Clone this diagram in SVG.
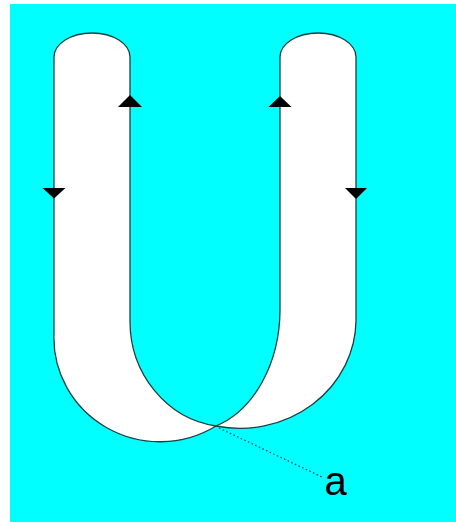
<svg xmlns="http://www.w3.org/2000/svg" width="456" height="522" viewBox="0 0 456 522">
<style>
.tube{fill:#ffffff;stroke:#1f3f3f;stroke-width:1.3}
.arr{fill:#000000}
.lead{stroke:#1f4f5f;stroke-width:1.3;stroke-dasharray:1.6 2.4;fill:none}
.lbl{font-family:"Liberation Sans",Arial,sans-serif;font-size:40px;fill:#000000}
</style>
<rect x="0" y="0" width="456" height="522" fill="#ffffff"/>
<rect x="10" y="4" width="446" height="518" fill="#00ffff"/>
<g id="left-tube">
<path class="tube" d="M54,333 L54,57 A38,24 0 0 1 130,57 L130,320 A100,106 0 0 0 216,426 A106,104 0 0 1 54,333 Z"/>
</g>
<g id="right-tube">
<path class="tube" d="M280,310 L280,57 A38,24 0 0 1 356,57 L356,321 A116,109 0 0 1 216,426 A90,122 0 0 0 280,310 Z"/>
</g>
<g id="connectors">
<polygon class="arr" points="42.5,188 65.5,188 54,198.5"/>
<polygon class="arr" points="118,107 142,107 130,95"/>
<polygon class="arr" points="268.5,107 291.5,107 280,96"/>
<polygon class="arr" points="345,188 367,188 356,199"/>
<line class="lead" x1="219" y1="428" x2="322" y2="477"/>
</g>
<g id="label-a">
<text class="lbl" x="324.5" y="495">a</text>
</g>
</svg>
